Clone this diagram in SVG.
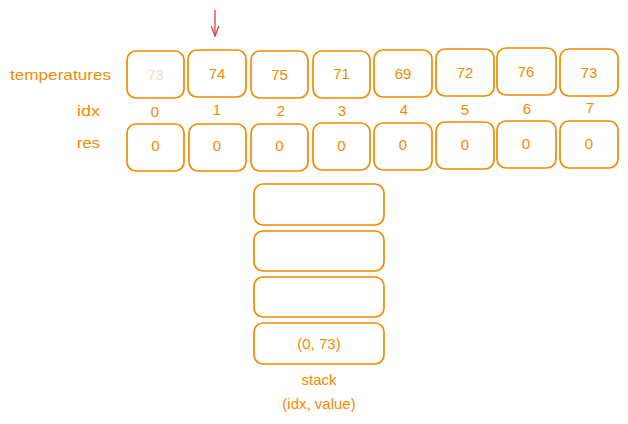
<svg xmlns="http://www.w3.org/2000/svg" width="628" height="424" viewBox="0 0 628 424">
<defs>
<style>
.box{fill:none;stroke:#f08c00;stroke-width:1.7}
.t{font-family:"Liberation Sans",Arial,sans-serif;font-size:15px;fill:#f08c00;text-anchor:middle;dominant-baseline:central}
.lbl{font-family:"Liberation Sans",Arial,sans-serif;font-size:15px;fill:#f08c00;text-anchor:start;dominant-baseline:central}
.conn{stroke:#e03131;stroke-width:1.2;fill:none}
</style>
<marker id="ah" viewBox="0 0 10 10" refX="9" refY="5" markerWidth="11" markerHeight="11" orient="auto" markerUnits="userSpaceOnUse">
<path d="M0,1.5 L9,5 L0,8.5" fill="none" stroke="#e03131" stroke-width="1.1"/>
</marker>
</defs>
<rect width="628" height="424" fill="#ffffff"/>
<g id="labels">
<text class="lbl" x="10" y="74" textLength="101" lengthAdjust="spacingAndGlyphs">temperatures</text>
<text class="lbl" x="77" y="110" textLength="23" lengthAdjust="spacingAndGlyphs">idx</text>
<text class="lbl" x="77" y="142" textLength="23" lengthAdjust="spacingAndGlyphs">res</text>
</g>
<g id="temp0"><rect class="box" x="127" y="51" width="57" height="47" rx="9"/><text class="t" x="155.5" y="74" opacity="0.3">73</text></g>
<g id="temp1"><rect class="box" x="188" y="50" width="58" height="47" rx="9"/><text class="t" x="217" y="73">74</text></g>
<g id="temp2"><rect class="box" x="251" y="51" width="57" height="47" rx="9"/><text class="t" x="279.5" y="74">75</text></g>
<g id="temp3"><rect class="box" x="313" y="51" width="57" height="47" rx="9"/><text class="t" x="341.5" y="73">71</text></g>
<g id="temp4"><rect class="box" x="374" y="50" width="58" height="47" rx="9"/><text class="t" x="403" y="73">69</text></g>
<g id="temp5"><rect class="box" x="436" y="49" width="58" height="47" rx="9"/><text class="t" x="465" y="72">72</text></g>
<g id="temp6"><rect class="box" x="497" y="48" width="59" height="47" rx="9"/><text class="t" x="526" y="71">76</text></g>
<g id="temp7"><rect class="box" x="560" y="49" width="58" height="47" rx="9"/><text class="t" x="589" y="72">73</text></g>
<g id="idx">
<text class="t" x="155" y="111">0</text>
<text class="t" x="217" y="109">1</text>
<text class="t" x="281" y="110">2</text>
<text class="t" x="342" y="110">3</text>
<text class="t" x="404" y="109">4</text>
<text class="t" x="465" y="109">5</text>
<text class="t" x="527" y="108">6</text>
<text class="t" x="590" y="107">7</text>
</g>
<g id="res0"><rect class="box" x="127" y="124" width="57" height="47" rx="9"/><text class="t" x="155.5" y="145">0</text></g>
<g id="res1"><rect class="box" x="189" y="124" width="57" height="47" rx="9"/><text class="t" x="217" y="145">0</text></g>
<g id="res2"><rect class="box" x="251" y="124" width="57" height="47" rx="9"/><text class="t" x="279.5" y="145">0</text></g>
<g id="res3"><rect class="box" x="313" y="123" width="57" height="47" rx="9"/><text class="t" x="341.5" y="145">0</text></g>
<g id="res4"><rect class="box" x="374" y="123" width="58" height="47" rx="9"/><text class="t" x="403" y="144">0</text></g>
<g id="res5"><rect class="box" x="436" y="122" width="58" height="47" rx="9"/><text class="t" x="465" y="144">0</text></g>
<g id="res6"><rect class="box" x="497" y="121" width="59" height="47" rx="9"/><text class="t" x="526" y="143">0</text></g>
<g id="res7"><rect class="box" x="560" y="121" width="58" height="47" rx="9"/><text class="t" x="589" y="143">0</text></g>
<g id="stack3"><rect class="box" x="254" y="184" width="130" height="41" rx="9"/></g>
<g id="stack2"><rect class="box" x="254" y="231" width="130" height="40" rx="9"/></g>
<g id="stack1"><rect class="box" x="254" y="277" width="130" height="40" rx="9"/></g>
<g id="stack0"><rect class="box" x="254" y="323" width="130" height="41" rx="9"/><text class="t" x="319" y="343">(0, 73)</text></g>
<g id="stacklabel">
<text class="t" x="319" y="379">stack</text>
<text class="t" x="319" y="403">(idx, value)</text>
</g>
<g id="connectors">
<line class="conn" x1="215" y1="10" x2="215" y2="36" marker-end="url(#ah)"/>
</g>
</svg>
